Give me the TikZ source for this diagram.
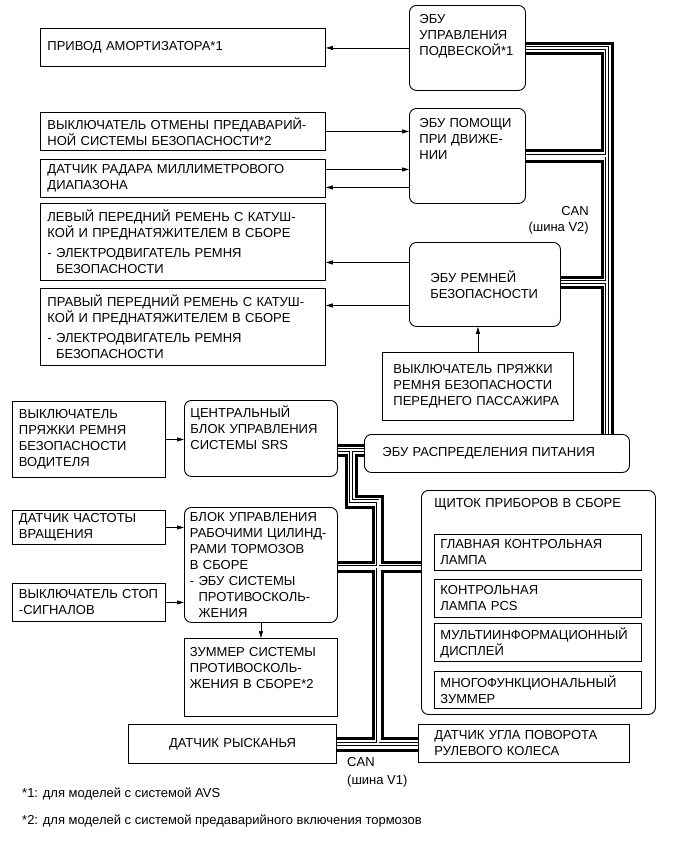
\documentclass[tikz,border=0pt]{standalone}
\usepackage{fontspec}
\setmainfont{Liberation Sans}
\usetikzlibrary{arrows.meta}

\begin{document}
\begin{tikzpicture}[x = 1pt, y = -1pt, font = \fontsize{13}{16}\selectfont]
	\tikzstyle{boxStyle} = [draw, line width = 0.9pt, anchor = north west, inner ysep = 0pt, align = left]
	\tikzstyle{ecuStyle} = [boxStyle, rounded corners = 7pt]
	\tikzstyle{arrowStyle} = [line width = 0.7pt, -{Triangle[length = 7pt, width = 4pt]}]
	\tikzstyle{canWire} = [line width = 3pt]
	\tikzstyle{canPair} = [line width = 0.8pt, double, double distance = 2pt]
	\useasboundingbox (0,0) rectangle (691,854);
	% left column
	\node[boxStyle, inner xsep = 7pt, text width = 271pt, minimum height = 38pt] (privod) at (40,28) {ПРИВОД АМОРТИЗАТОРА*1};
	\node[boxStyle, inner xsep = 7pt, text width = 271pt, minimum height = 38pt] (vykl) at (40,112) {ВЫКЛЮЧАТЕЛЬ ОТМЕНЫ ПРЕДАВАРИЙ-\\НОЙ СИСТЕМЫ БЕЗОПАСНОСТИ*2};
	\node[boxStyle, inner xsep = 7pt, text width = 271pt, minimum height = 38pt] (radar) at (40,159) {ДАТЧИК РАДАРА МИЛЛИМЕТРОВОГО\\ДИАПАЗОНА};
	\node[boxStyle, inner xsep = 7pt, text width = 271pt, minimum height = 77pt] (levyi) at (40,203) {ЛЕВЫЙ ПЕРЕДНИЙ РЕМЕНЬ С КАТУШ-\\КОЙ И ПРЕДНАТЯЖИТЕЛЕМ В СБОРЕ\\[4pt]- ЭЛЕКТРОДВИГАТЕЛЬ РЕМНЯ\\\phantom{- }БЕЗОПАСНОСТИ};
	\node[boxStyle, inner xsep = 7pt, text width = 271pt, minimum height = 77pt] (pravyi) at (40,288) {ПРАВЫЙ ПЕРЕДНИЙ РЕМЕНЬ С КАТУШ-\\КОЙ И ПРЕДНАТЯЖИТЕЛЕМ В СБОРЕ\\[4pt]- ЭЛЕКТРОДВИГАТЕЛЬ РЕМНЯ\\\phantom{- }БЕЗОПАСНОСТИ};
	% ecus on V2
	\node[ecuStyle, inner xsep = 10pt, text width = 96pt, text height = 18pt, text depth = 67pt] (ecu_susp) at (409,5) {ЭБУ\\УПРАВЛЕНИЯ\\ПОДВЕСКОЙ*1};
	\node[ecuStyle, inner xsep = 10pt, text width = 96pt, text height = 19.5pt, text depth = 75.5pt] (ecu_help) at (409,108) {ЭБУ ПОМОЩИ\\ПРИ ДВИЖЕ-\\НИИ};
	\node[ecuStyle, inner xsep = 21pt, text width = 109pt, minimum height = 84pt] (ecu_belt) at (409,242) {ЭБУ РЕМНЕЙ\\БЕЗОПАСНОСТИ};
	\node[boxStyle, inner xsep = 11pt, text width = 169pt, minimum height = 68pt] (buckle_pass) at (382,352) {ВЫКЛЮЧАТЕЛЬ ПРЯЖКИ\\РЕМНЯ БЕЗОПАСНОСТИ\\ПЕРЕДНЕГО ПАССАЖИРА};
	\node[ecuStyle, inner xsep = 18pt, text width = 229pt, minimum height = 38pt] (ecu_power) at (364,434) {ЭБУ РАСПРЕДЕЛЕНИЯ ПИТАНИЯ};
	% lower part, V1
	\node[boxStyle, inner xsep = 6.5pt, text width = 140pt, minimum height = 76pt] (buckle_drv) at (12,401) {ВЫКЛЮЧАТЕЛЬ\\ПРЯЖКИ РЕМНЯ\\БЕЗОПАСНОСТИ\\ВОДИТЕЛЯ};
	\node[ecuStyle, inner xsep = 6pt, text width = 141pt, text height = 17.5pt, text depth = 58.5pt] (srs) at (184,400) {ЦЕНТРАЛЬНЫЙ\\БЛОК УПРАВЛЕНИЯ\\СИСТЕМЫ SRS};
	\node[boxStyle, inner xsep = 6.5pt, text width = 140pt, minimum height = 34pt] (rpm) at (12,510) {ДАТЧИК ЧАСТОТЫ\\ВРАЩЕНИЯ};
	\node[ecuStyle, inner xsep = 5.5pt, text width = 142pt, minimum height = 115pt] (brake) at (184,507) {БЛОК УПРАВЛЕНИЯ\\РАБОЧИМИ ЦИЛИНД-\\РАМИ ТОРМОЗОВ\\В СБОРЕ\\- ЭБУ СИСТЕМЫ\\\phantom{- }ПРОТИВОСКОЛЬ-\\\phantom{- }ЖЕНИЯ};
	\node[boxStyle, inner xsep = 6.5pt, text width = 140pt, minimum height = 38pt] (stop) at (12,583) {ВЫКЛЮЧАТЕЛЬ СТОП\\-СИГНАЛОВ};
	\node[boxStyle, inner xsep = 5.5pt, text width = 142pt, text height = 18.5pt, text depth = 59.5pt] (buzzer) at (184,638) {ЗУММЕР СИСТЕМЫ\\ПРОТИВОСКОЛЬ-\\ЖЕНИЯ В СБОРЕ*2};
	\node[boxStyle, align = center, inner xsep = 6pt, text width = 196pt, minimum height = 39pt] (yaw) at (128,724) {ДАТЧИК РЫСКАНЬЯ};
	\node[boxStyle, inner xsep = 16pt, text width = 179pt, minimum height = 38pt] (steer) at (418,724) {ДАТЧИК УГЛА ПОВОРОТА\\РУЛЕВОГО КОЛЕСА};
	\node[ecuStyle, inner xsep = 13pt, text width = 208pt, text height = 17.5pt, text depth = 206.5pt] (shield) at (421,490) {ЩИТОК ПРИБОРОВ В СБОРЕ};
	\node[boxStyle, inner xsep = 6pt, text width = 195pt, minimum height = 36pt] (lamp1) at (434,534) {ГЛАВНАЯ КОНТРОЛЬНАЯ\\ЛАМПА};
	\node[boxStyle, inner xsep = 6pt, text width = 195pt, minimum height = 38pt] (lamp2) at (434,579) {КОНТРОЛЬНАЯ\\ЛАМПА PCS};
	\node[boxStyle, inner xsep = 6pt, text width = 195pt, minimum height = 38pt] (display) at (434,623) {МУЛЬТИИНФОРМАЦИОННЫЙ\\ДИСПЛЕЙ};
	\node[boxStyle, inner xsep = 6pt, text width = 195pt, minimum height = 37pt] (mbuzzer) at (434,671) {МНОГОФУНКЦИОНАЛЬНЫЙ\\ЗУММЕР};
	% arrows
	\draw[arrowStyle] (ecu_susp.west) -- (ecu_susp.west -| privod.east);
	\draw[arrowStyle] (vykl.east) -- (vykl.east -| ecu_help.west);
	\draw[arrowStyle] ([yshift = 9pt]radar.east) -- ([yshift = 9pt]radar.east -| ecu_help.west);
	\draw[arrowStyle] ([yshift = -9pt]radar.east -| ecu_help.west) -- ([yshift = -9pt]radar.east);
	\draw[arrowStyle] ([yshift = -20.5pt]levyi.east -| ecu_belt.west) -- ([yshift = -20.5pt]levyi.east);
	\draw[arrowStyle] ([yshift = 21.5pt]pravyi.east -| ecu_belt.west) -- ([yshift = 21.5pt]pravyi.east);
	\draw[arrowStyle] (buckle_pass.north) -- (buckle_pass.north |- ecu_belt.south);
	\draw[arrowStyle] (buckle_drv.east) -- (buckle_drv.east -| srs.west);
	\draw[arrowStyle] (rpm.east) -- (rpm.east -| brake.west);
	\draw[arrowStyle] (stop.east) -- (stop.east -| brake.west);
	\draw[arrowStyle] (brake.south) -- (brake.south |- buzzer.north);
	% CAN V2
	\draw[canWire] (ecu_susp.east |- 0,43) -| (ecu_power.north -| 612,0);
	\draw[canWire] (ecu_susp.east |- 0,53) -| (602,150) -- (ecu_help.east |- 0,150);
	\draw[canWire] (ecu_help.east |- 0,161) -| (602,277) -- (ecu_belt.east |- 0,277);
	\draw[canWire] (ecu_belt.east |- 0,287) -| (ecu_power.north -| 602,0);
	\draw[canPair] (ecu_susp.east |- 0,48) -| (ecu_power.north -| 607,0)
		(ecu_help.east |- 0,155.5) -- (607,155.5)
		(ecu_belt.east |- 0,282) -- (607,282);
	% CAN V1
	\draw[canWire] (srs.east |- 0,445) -- (ecu_power.west |- 0,445);
	\draw[canWire] (srs.east |- 0,455) -| (346,507) -| (373,562) -- (brake.east |- 0,562);
	\draw[canWire] (ecu_power.west |- 0,455) -| (356,496) -| (382,562) -- (shield.west |- 0,562);
	\draw[canWire] (brake.east |- 0,571) -| (373,738) -- (yaw.east |- 0,738);
	\draw[canWire] (shield.west |- 0,571) -| (382,738) -- (steer.west |- 0,738);
	\draw[canWire] (yaw.east |- 0,750) -- (steer.west |- 0,750);
	\draw[canPair] (srs.east |- 0,450) -- (ecu_power.west |- 0,450)
		(351,450) |- (377.5,501) -- (377.5,744)
		(brake.east |- 0,566.5) -- (shield.west |- 0,566.5)
		(yaw.east |- 0,744) -- (steer.west |- 0,744);
	\node[anchor = north east, align = right, inner sep = 0pt] (can2) at (589,206.5) {CAN\\(шина V2)};
	\node[anchor = north west, align = left, inner sep = 0pt] (can1) at (347,757) {CAN\\[2pt](шина V1)};
	% footnotes
	\node[anchor = base west, inner sep = 0pt] (note1) at (22,797.5) {*1: для моделей с системой AVS};
	\node[anchor = base west, inner sep = 0pt] (note2) at (22,824.5) {*2: для моделей с системой предаварийного включения тормозов};
\end{tikzpicture}
\end{document}
